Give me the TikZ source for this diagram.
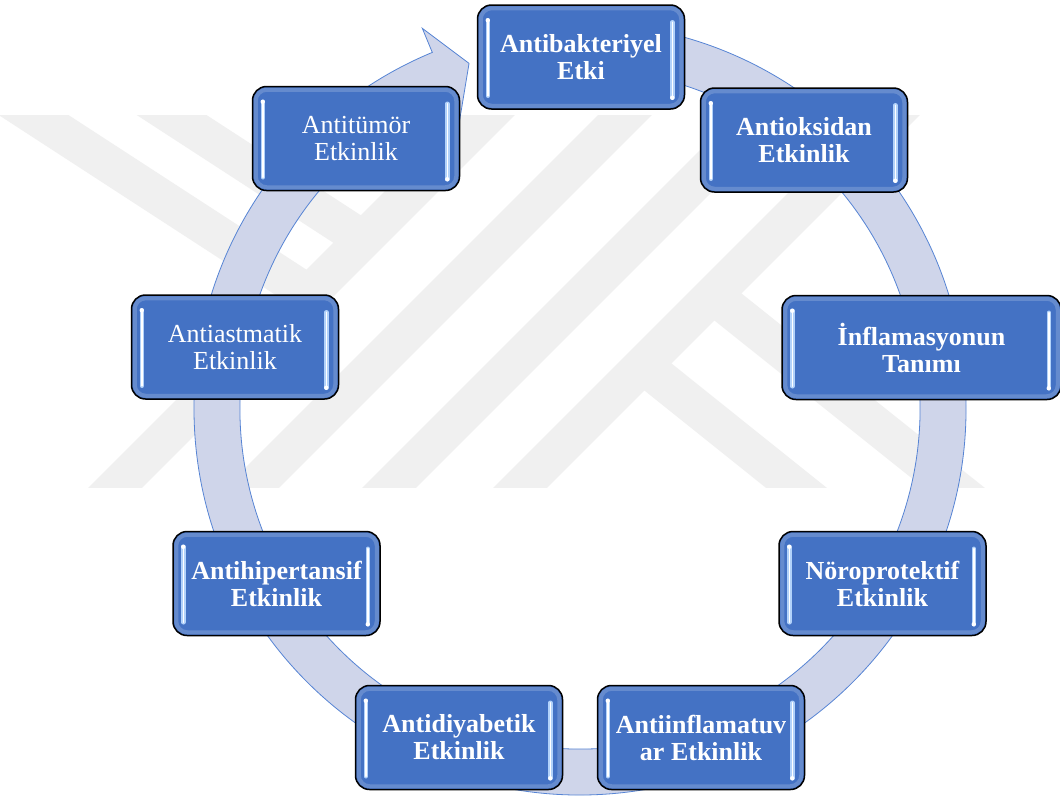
\documentclass[tikz,border=0pt]{standalone}
\usepackage{fontspec}
\setmainfont{Liberation Serif}
\usetikzlibrary{positioning}

\definecolor{kutumavi}{RGB}{68,114,196}
\definecolor{parlakmavi}{RGB}{178,210,250}
\definecolor{halkadolgu}{RGB}{207,213,234}
\definecolor{halkacizgi}{RGB}{86,132,212}

\tikzset{
  kutu/.style={rectangle, rounded corners=14pt, draw=black, line width=1.5pt, fill=kutumavi,
    minimum width=207pt, minimum height=104pt, inner sep=0pt, align=center, text=white,
    font=\fontsize{26}{27}\selectfont\bfseries},
  ince/.style={font=\fontsize{26}{27}\selectfont},
  halka/.style={fill=halkadolgu, draw=halkacizgi, line width=0.8pt},
  filigran/.style={draw=black!6, line width=38pt},
  parlak/.style={draw=parlakmavi, line width=4.5pt, line cap=round},
  parlakic/.style={draw=white, line width=1.5pt, line cap=round},
  kenar/.style={draw=white, opacity=0.18, line width=4pt, rounded corners=11pt}
}

\begin{document}
\begin{tikzpicture}[x=1pt, y=-1pt]
\useasboundingbox (0,0) rectangle (1060,796);
\fill[white] (0,0) rectangle (1060,796);

% watermark
\begin{scope}
\clip (0,115) rectangle (1060,487);
\draw[filigran] (-28,75) -- (309,294);
\draw[filigran] (110,75) -- (364,240);
\foreach \c in {603,740,877,1008}
  \draw[filigran] (\c-75,75) -- (\c-530,530);
\draw[filigran] (713,295) -- (1007,530);
\draw[filigran] (643,365) -- (849,530);
\end{scope}

% circular arrow
\begin{scope}[shift={(580,409)}, yscale=-1]
\draw[halka] (95:386) arc[start angle=95, end angle=-247.5, radius=386]
  -- (-247.5:412) -- (-252.2:363) -- (-247.5:314) -- (-247.5:340)
  arc[start angle=-247.5, end angle=95, radius=340] -- cycle;
\end{scope}

% boxes
\node[kutu] (1) at (581,57) {Antibakteriyel\\Etki};
\node[kutu] (2) at (804,140) {Antioksidan\\Etkinlik};
\node[kutu, minimum width=279pt] (3) at (921.5,347.5) {İnflamasyonun\\Tanımı};
\node[kutu] (4) at (882.5,583.5) {Nöroprotektif\\Etkinlik};
\node[kutu] (5) at (701,737.5) {Antiinflamatuv\\ar Etkinlik};
\node[kutu] (6) at (459,737.5) {Antidiyabetik\\Etkinlik};
\node[kutu] (7) at (276.5,583.5) {Antihipertansif\\Etkinlik};
\node[kutu, ince] (8) at (235,347) {Antiastmatik\\Etkinlik};
\node[kutu, ince] (9) at (356,138.5) {Antitümör\\Etkinlik};

% glow and highlight bars
\foreach \n in {1,...,9} {
  \draw[kenar] ([shift={(4pt,4pt)}]\n.south west) rectangle ([shift={(-4pt,-4pt)}]\n.north east);
  \draw[parlak] ([xshift=11pt,yshift=-16pt]\n.north west) -- ([xshift=11pt,yshift=14pt]\n.south west);
  \draw[parlakic] ([xshift=11pt,yshift=-16pt]\n.north west) -- ([xshift=11pt,yshift=14pt]\n.south west);
  \fill[white] ([xshift=11pt,yshift=-16pt]\n.north west) circle (2.2pt);
  \draw[parlak] ([xshift=-13pt,yshift=-18pt]\n.north east) -- ([xshift=-13pt,yshift=12pt]\n.south east);
  \draw[parlakic] ([xshift=-13pt,yshift=-18pt]\n.north east) -- ([xshift=-13pt,yshift=12pt]\n.south east);
  \fill[white] ([xshift=-13pt,yshift=12pt]\n.south east) circle (2.2pt);
}
\end{tikzpicture}
\end{document}
